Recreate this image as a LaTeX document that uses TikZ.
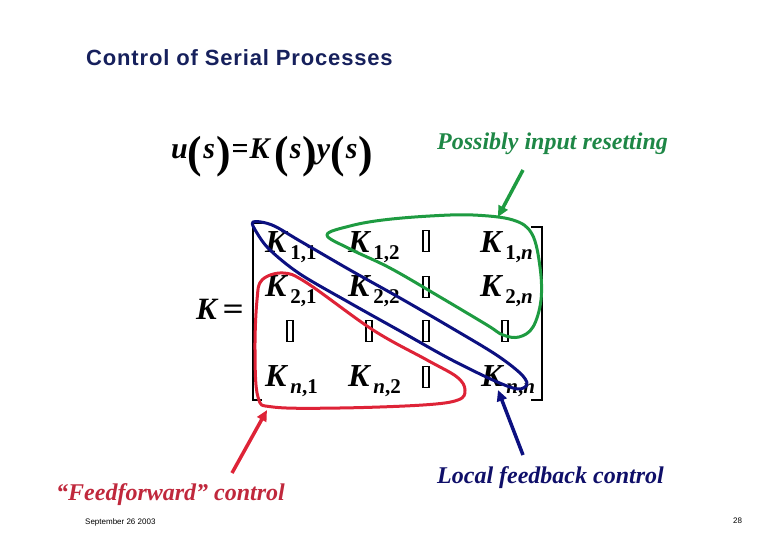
\documentclass[tikz,border=0pt]{standalone}
\usepackage{fontspec}
\setmainfont{Liberation Serif}
\setsansfont{Liberation Sans}
\usetikzlibrary{arrows.meta}

\definecolor{titlenavy}{RGB}{22,32,92}
\definecolor{ffred}{RGB}{222,35,55}
\definecolor{ffredtext}{RGB}{192,40,60}
\definecolor{rsgreen}{RGB}{30,155,65}
\definecolor{rsgreentext}{RGB}{30,135,70}
\definecolor{lfblue}{RGB}{12,16,128}
\definecolor{lfbluetext}{RGB}{15,15,105}

% tall bold brackets round an argument
\newcommand{\bigpar}[1]{\raisebox{-0.27em}{\scalebox{1.45}[1.5]{(}}\kern1pt\textit{#1}\kern1pt\raisebox{-0.27em}{\scalebox{1.45}[1.5]{)}}}
% matrix entry K with its index pair
\newcommand{\Kent}[1]{\textit{K}\kern2pt\raisebox{-7pt}{\fontsize{21}{21}\selectfont #1}}

\begin{document}
\begin{tikzpicture}[x=1pt,y=-1pt,
		entry/.style={anchor=base west, inner sep=0pt, font=\fontsize{32}{32}\selectfont\bfseries},
		tofu/.style={draw, line width=1.1pt, inner sep=0pt, minimum width=6pt, minimum height=21pt},
		bracket/.style={line width=1.8pt},
		loop/.style={line width=3pt, line join=round},
		lbl/.style={anchor=base west, inner sep=0pt, font=\fontsize{24}{24}\selectfont\bfseries\itshape},
		pointer/.style={line width=3.5pt, -{Triangle[length=11pt,width=10pt]}},
		foot/.style={anchor=base west, inner sep=0pt, font=\sffamily\fontsize{8}{8}\selectfont}]
	\useasboundingbox (0,0) rectangle (780,540);

	% title
	\node[anchor=base west, inner sep=0pt, text=titlenavy,
		font=\sffamily\bfseries\fontsize{22}{22}\selectfont\addfontfeatures{LetterSpace=3.8}] (title) at (86,66) {Control of Serial Processes};

	% control law
	\node[anchor=base west, inner sep=0pt, font=\fontsize{30}{30}\selectfont\bfseries] (law) at (171,159)
		{\textit{u}\bigpar{s}\kern1pt=\kern1pt\textit{K}\kern3pt\bigpar{s}\textit{y}\bigpar{s}};

	% gain matrix
	\node[entry, font=\fontsize{31}{31}\selectfont\bfseries] (Kname) at (196,320) {\textit{K}\kern4pt\scalebox{1.2}[1]{=}};
	\draw[bracket] (262,223) -- (253,223) -- (253,400) -- (262,400);
	\draw[bracket] (531,227) -- (542,227) -- (542,400) -- (531,400);

	\node[entry] (k11) at (265,253) {\Kent{1,1}};
	\node[entry] (k12) at (348,253) {\Kent{1,2}};
	\node[entry] (k1n) at (480,253) {\Kent{1,\textit{n}}};
	\node[entry] (k21) at (265,297) {\Kent{2,1}};
	\node[entry] (k22) at (348,297) {\Kent{2,2}};
	\node[entry] (k2n) at (480,297) {\Kent{2,\textit{n}}};
	\node[entry] (kn1) at (265,387) {\Kent{\textit{n},1}};
	\node[entry] (kn2) at (348,387) {\Kent{\textit{n},2}};
	\node[entry] (knn) at (481,387) {\Kent{\textit{n},\textit{n}}};

	% missing dots, shown as empty boxes
	\foreach \bx/\by/\nm in {426/241/d13, 426/287/d23, 290/331/d31, 369/331/d32,
			426/331/d33, 505/331/d34, 426/377/d43}
		\node[tofu] (\nm) at (\bx,\by) {};

	% upper triangle
	\draw[loop, rsgreen] plot[smooth cycle, tension=0.6] coordinates {
			(327,235) (350,226) (383,220) (430,216) (473,215) (513,220) (532,234)
			(540,267) (541,300) (533,327) (519,337) (503,335) (487,325)
			(440,297) (390,268) (350,249)};

	% lower triangle
	\draw[loop, ffred] plot[smooth cycle, tension=0.6] coordinates {
			(262,280) (283,273) (307,283) (373,330) (427,360) (457,377)
			(465,390) (458,400) (423,405) (340,408) (273,407) (258,397)
			(255,350) (257,300)};

	% diagonal
	\draw[loop, lfblue] plot[smooth cycle, tension=0.55] coordinates {
			(253,222) (272,225) (300,241) (350,270) (400,298) (450,327) (495,354)
			(520,373) (527,384) (518,389) (495,381) (450,359) (400,331) (350,303)
			(300,274) (270,250) (257,233)};

	% labels
	\node[lbl, text=rsgreentext] (rsLabel) at (437,150) {Possibly input resetting};
	\node[lbl, text=ffredtext] (ffLabel) at (56,500) {“Feedforward” control};
	\node[lbl, text=lfbluetext] (lfLabel) at (437,483) {Local feedback control};

	% pointers
	\coordinate (rsTail) at (523,170);
	\coordinate (rsTip) at (498,217);
	\coordinate (ffTail) at (232,473);
	\coordinate (ffTip) at (267,410);
	\coordinate (lfTail) at (523,455);
	\coordinate (lfTip) at (498,390);
	\draw[pointer, rsgreen] (rsTail) -- (rsTip);
	\draw[pointer, ffred] (ffTail) -- (ffTip);
	\draw[pointer, lfblue] (lfTail) -- (lfTip);

	% footer
	\node[foot] (date) at (85,524) {September 26 2003};
	\node[foot] (page) at (733,523) {28};
\end{tikzpicture}
\end{document}
